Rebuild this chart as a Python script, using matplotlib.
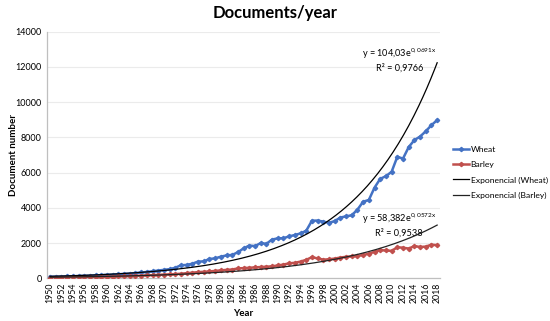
import matplotlib
matplotlib.use("Agg")
import matplotlib.pyplot as plt
import numpy as np

plt.rcParams['font.family'] = ['Lato', 'DejaVu Sans']
plt.rcParams['mathtext.fontset'] = 'custom'
plt.rcParams['mathtext.rm'] = 'Lato'
plt.rcParams['mathtext.it'] = 'Lato'
plt.rcParams['mathtext.default'] = 'regular'

years = list(range(1950, 2019))
wheat = [90, 95, 100, 110, 120, 130, 140, 150, 165, 180,
         195, 210, 230, 250, 270, 300, 330, 360, 400, 440,
         480, 520, 600, 740, 760, 830, 950, 960, 1100, 1130,
         1230, 1300, 1330, 1480, 1700, 1860, 1830, 2000, 1960, 2200,
         2270, 2280, 2380, 2460, 2550, 2700, 3270, 3280, 3220, 3150,
         3250, 3450, 3520, 3580, 3900, 4350, 4450, 5150, 5650, 5800,
         6050, 6900, 6800, 7450, 7850, 8050, 8350, 8700, 8980]
barley = [30, 35, 40, 45, 50, 55, 60, 65, 70, 75,
          85, 95, 105, 115, 125, 140, 150, 165, 180, 195,
          210, 225, 240, 260, 290, 320, 350, 370, 390, 420,
          450, 480, 500, 560, 580, 600, 620, 640, 660, 680,
          730, 780, 850, 880, 950, 1050, 1200, 1130, 1060, 1080,
          1120, 1180, 1220, 1240, 1270, 1320, 1400, 1500, 1600, 1580,
          1560, 1760, 1740, 1690, 1830, 1780, 1800, 1910, 1880]

# Excel exponential trendline coefficients as displayed
wheat_a, wheat_b = 104.03, 0.0691
barley_a, barley_b = 58.382, 0.0572

fig = plt.figure(figsize=(5.5, 3.21), dpi=100)
ax = fig.add_axes([0.0858, 0.133, 0.8 - 0.0858, 0.901 - 0.133])

idx = np.arange(len(years))
xs = np.linspace(0, len(years) - 1, 300)
blue = '#4472C4'
red = '#C0504D'

ax.plot(idx, wheat, color=blue, lw=1.8, marker='D', ms=2.2, label='Wheat', zorder=3)
ax.plot(idx, barley, color=red, lw=1.8, marker='D', ms=2.2, label='Barley', zorder=3)
ax.plot(xs, wheat_a * np.exp(wheat_b * (xs + 1)), color='black', lw=0.9,
        label='Exponencial (Wheat)', zorder=4)
ax.plot(xs, barley_a * np.exp(barley_b * (xs + 1)), color='#222222', lw=0.9,
        label='Exponencial (Barley)', zorder=4)

ax.set_xlim(-0.5, len(years) - 0.5)
ax.set_ylim(0, 14000)
ax.set_yticks(range(0, 14001, 2000))
ax.set_xticks(idx[::2])
ax.set_xticklabels([str(y) for y in years[::2]], rotation=90, fontsize=6.3)
ax.tick_params(axis='y', labelsize=6.5, length=0, pad=4)
ax.tick_params(axis='x', length=0, pad=3)
ax.yaxis.grid(True, color='#EBEBEB', lw=0.8)
ax.set_axisbelow(True)
for s in ['top', 'right']:
    ax.spines[s].set_visible(False)
for s in ['left', 'bottom']:
    ax.spines[s].set_color('#BFBFBF')
    ax.spines[s].set_linewidth(0.9)

ax.set_xlabel('Year', fontsize=7, fontweight='bold', labelpad=4)
fig.text(0.024, 0.517, 'Document number', rotation=90, ha='center', va='center',
         fontsize=7, fontweight='bold')
fig.text(0.5, 0.96, 'Documents/year', ha='center', va='center',
         fontsize=12, fontweight='bold')

ann = dict(transform=ax.transAxes, fontsize=6.6, ha='center', va='center')
ax.text(0.896, 0.91, r'y = 104,03e$^{0,0691x}$', **ann)
ax.text(0.896, 0.852, 'R² = 0,9766', **ann)
ax.text(0.896, 0.242, r'y = 58,382e$^{0,0572x}$', **ann)
ax.text(0.896, 0.184, 'R² = 0,9538', **ann)

leg = fig.legend(loc='upper left', bbox_to_anchor=(0.818, 0.555), frameon=False,
                 fontsize=6.1, handlelength=1.9, handletextpad=0.15,
                 labelspacing=0.95, borderaxespad=0)

fig.savefig('out.png', dpi=100)
